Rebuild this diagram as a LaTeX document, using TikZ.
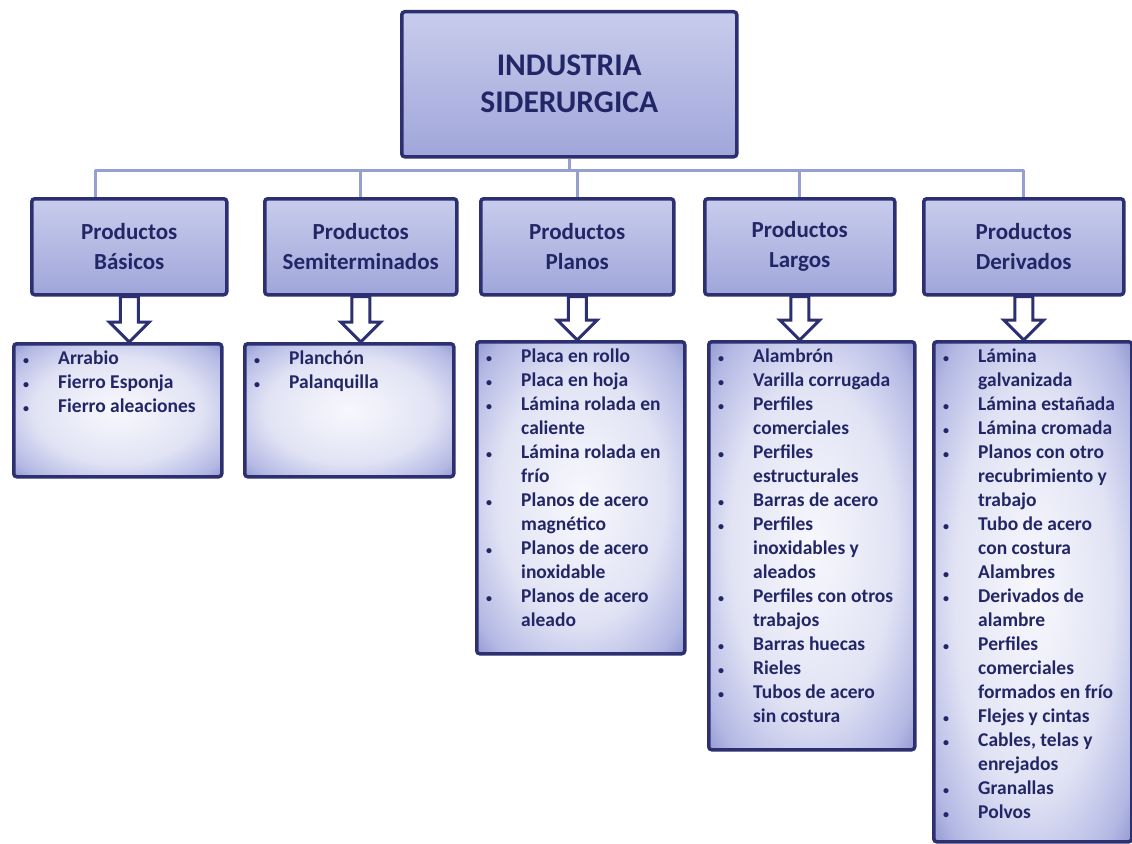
\documentclass[tikz,border=0pt]{standalone}
\usepackage{fontspec}
\setmainfont{Carlito}
\usetikzlibrary{calc}

\definecolor{navy}{RGB}{44,48,112}
\definecolor{ink}{RGB}{34,38,102}
\definecolor{lav}{RGB}{160,166,218}
\definecolor{lavlight}{RGB}{200,204,236}
\definecolor{edge}{RGB}{108,114,188}
\definecolor{mist}{RGB}{180,185,228}
\definecolor{wire}{RGB}{150,160,208}

% soft glow inside the list boxes
\pgfdeclareradialshading{glow}{\pgfpoint{0bp}{0bp}}{%
  color(0bp)=(white!90!mist); color(20bp)=(white!60!mist);
  color(31bp)=(mist); color(41bp)=(edge); color(60bp)=(edge)}

% bullet and hanging indent for the lists
\newcommand{\bul}{\makebox[35pt][l]{\fontsize{12pt}{12pt}\selectfont\textbullet}}
\newcommand{\cnt}{\hspace*{35pt}}
% hollow block arrow from a header box down to its list
\newcommand{\downarr}[2]{%
  \draw[hollow] ($(#1)+(-9,0)$) -- ($(#1 |- #2)+(-9,-20)$) -- ++(-11,0)
    -- (#1 |- #2) -- ++(20,-20) -- ++(-11,0) -- ($(#1)+(9,0)$) -- cycle;}

\begin{document}
\begin{tikzpicture}[x=1pt, y=-1pt,
  box/.style={rectangle, draw=navy, line width=3.5pt, rounded corners=3pt,
    anchor=north west, inner sep=0pt},
  head/.style={box, top color=lavlight, bottom color=lav, text=ink,
    align=center, font=\bfseries\fontsize{23pt}{30pt}\selectfont,
    minimum height=96pt},
  listbox/.style={box, shading=glow},
  items/.style={anchor=north west, align=left, inner sep=0pt, text=ink,
    font=\bfseries\fontsize{19.5pt}{24pt}\selectfont},
  link/.style={draw=wire, line width=3pt},
  hollow/.style={draw=navy, line width=3pt, fill=white, line join=miter}
]
\useasboundingbox (0,0) rectangle (1132,843);

% title
\node[head, font=\bfseries\fontsize{31.5pt}{37pt}\selectfont,
  minimum width=335pt, minimum height=145pt] (top) at (400,10)
  {INDUSTRIA\\SIDERURGICA};

% product groups
\node[head, minimum width=195pt] (b1) at (30,197) {Productos\\Básicos};
\node[head, minimum width=192pt] (b2) at (263,197) {Productos\\Semiterminados};
\node[head, minimum width=193pt] (b3) at (479,197) {Productos\\Planos};
\node[head, minimum width=190pt] (b4) at (703,197) {Productos\\Largos};
\node[head, minimum width=200pt] (b5) at (922,197) {Productos\\Derivados};

% tree lines
\coordinate (bus) at (567,170);
\coordinate (drop1) at ([xshift=-34pt]b1.north);
\draw[link] (top.south) -- (top.south |- bus);
\draw[link] (drop1 |- bus) -- (b5.north |- bus);
\draw[link] (drop1) -- (drop1 |- bus);
\foreach \b in {b2,b3,b4,b5}
  \draw[link] (\b.north) -- (\b.north |- bus);

% lists
\node[listbox, minimum width=208pt, minimum height=133pt] (l1) at (12,342) {};
\node[listbox, minimum width=209pt, minimum height=133pt] (l2) at (243,342) {};
\node[listbox, minimum width=208pt, minimum height=312pt] (l3) at (475,340) {};
\node[listbox, minimum width=206pt, minimum height=408pt] (l4) at (707,340) {};
\node[listbox, minimum width=198pt, minimum height=500pt] (l5) at (932,340) {};

\node[items] (t1) at ([shift={(11,9)}]l1.north west)
  {\bul Arrabio\\ \bul Fierro Esponja\\ \bul Fierro aleaciones};
\node[items] (t2) at ([shift={(11,9)}]l2.north west)
  {\bul Planchón\\ \bul Palanquilla};
\node[items] (t3) at ([shift={(11,9)}]l3.north west)
  {\bul Placa en rollo\\ \bul Placa en hoja\\
   \bul Lámina rolada en\\ \cnt caliente\\
   \bul Lámina rolada en\\ \cnt frío\\
   \bul Planos de acero\\ \cnt magnético\\
   \bul Planos de acero\\ \cnt inoxidable\\
   \bul Planos de acero\\ \cnt aleado};
\node[items] (t4) at ([shift={(11,9)}]l4.north west)
  {\bul Alambrón\\ \bul Varilla corrugada\\
   \bul Perfiles\\ \cnt comerciales\\
   \bul Perfiles\\ \cnt estructurales\\
   \bul Barras de acero\\
   \bul Perfiles\\ \cnt inoxidables y\\ \cnt aleados\\
   \bul Perfiles con otros\\ \cnt trabajos\\
   \bul Barras huecas\\ \bul Rieles\\
   \bul Tubos de acero\\ \cnt sin costura};
\node[items] (t5) at ([shift={(11,9)}]l5.north west)
  {\bul Lámina\\ \cnt galvanizada\\
   \bul Lámina estañada\\ \bul Lámina cromada\\
   \bul Planos con otro\\ \cnt recubrimiento y\\ \cnt trabajo\\
   \bul Tubo de acero\\ \cnt con costura\\
   \bul Alambres\\
   \bul Derivados de\\ \cnt alambre\\
   \bul Perfiles\\ \cnt comerciales\\ \cnt formados en frío\\
   \bul Flejes y cintas\\
   \bul Cables, telas y\\ \cnt enrejados\\
   \bul Granallas\\ \bul Polvos};

% block arrows
\downarr{b1.south}{l1.north}
\downarr{b2.south}{l2.north}
\downarr{b3.south}{l3.north}
\downarr{b4.south}{l4.north}
\downarr{b5.south}{l5.north}
\end{tikzpicture}
\end{document}
